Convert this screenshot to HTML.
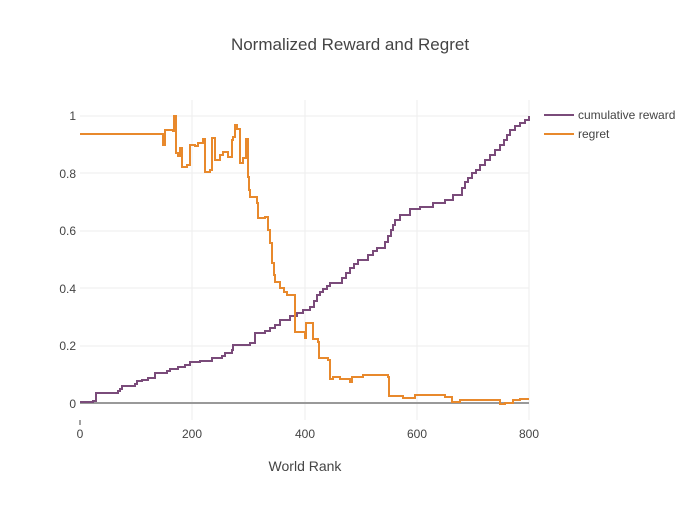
<!DOCTYPE html>
<html><head><style>
body{margin:0;background:#fff;}
svg text{font-family:"Liberation Sans",sans-serif;fill:#444;}
</style></head><body>
<svg width="700" height="500" xmlns="http://www.w3.org/2000/svg">
<rect width="700" height="500" fill="#fff"/>
<g stroke="#eee" stroke-width="1">
<line x1="192" y1="100" x2="192" y2="420"/><line x1="305" y1="100" x2="305" y2="420"/><line x1="417" y1="100" x2="417" y2="420"/><line x1="529" y1="100" x2="529" y2="420"/>
<line x1="80" y1="116" x2="529" y2="116"/><line x1="80" y1="173" x2="529" y2="173"/><line x1="80" y1="231" x2="529" y2="231"/><line x1="80" y1="288" x2="529" y2="288"/><line x1="80" y1="346" x2="529" y2="346"/>
</g>
<line x1="80" y1="403" x2="529" y2="403" stroke="#999" stroke-width="2"/>
<g stroke="#444"><line x1="80" y1="420" x2="80" y2="425"/></g>
<text x="350" y="50" font-size="17" text-anchor="middle">Normalized Reward and Regret</text>
<g font-size="12" text-anchor="end">
<text x="76" y="120">1</text><text x="76" y="178">0.8</text><text x="76" y="235">0.6</text><text x="76" y="293">0.4</text><text x="76" y="350">0.2</text><text x="76" y="408">0</text>
</g>
<g font-size="12" text-anchor="middle">
<text x="80" y="438">0</text><text x="192" y="438">200</text><text x="305" y="438">400</text><text x="417" y="438">600</text><text x="529" y="438">800</text>
</g>
<text x="305" y="471" font-size="14" text-anchor="middle">World Rank</text>
<path fill="none" stroke="#7a4b7a" stroke-width="2" d="M80,402 H93 V401 H96 V393 H118 V391 H120 V389 H122 V386 H135 V384 H137 V381 H142 V380 H148 V378 H155 V373 H167 V371 H170 V369 H178 V367 H185 V365 H190 V362 H200 V361 H212 V358 H222 V356 H225 V353 H232 V350 H233 V345 H250 V343 H255 V333 H265 V331 H270 V328 H275 V325 H280 V320 H290 V316 H297 V313 H303 V310 H310 V307 H314 V301 H317 V295 H320 V292 H323 V289 H327 V286 H330 V283 H342 V278 H346 V273 H350 V268 H354 V264 H358 V260 H368 V255 H373 V251 H377 V248 H385 V242 H388 V236 H391 V230 H393 V225 H395 V220 H400 V215 H410 V209 H420 V207 H433 V203 H445 V200 H453 V195 H462 V188 H465 V182 H468 V178 H472 V173 H476 V170 H480 V165 H485 V160 H490 V155 H495 V150 H500 V145 H504 V140 H507 V135 H510 V130 H515 V126 H520 V123 H525 V120 H529 V116"/>
<path fill="none" stroke="#e8892c" stroke-width="2" d="M80,134 H163 V145 H165 V130 H173 V131 H174 V116 H176 V153 H178 V156 H180 V148 H182 V167 H187 V165 H190 V145 H195 V146 H198 V143 H203 V139 H205 V172 H210 V170 H212 V138 H215 V160 H220 V155 H223 V152 H228 V157 H232 V140 H233 V137 H235 V125 H237 V129 H240 V163 H243 V158 H246 V139 H248 V177 H249 V190 H250 V197 H257 V203 H258 V218 H265 V217 H268 V230 H270 V243 H272 V263 H274 V275 H275 V282 H280 V288 H284 V292 H287 V295 H292 V295 H295 V332 H305 V338 H306 V323 H312 V323 H313 V339 H318 V342 H319 V358 H328 V360 H330 V379 H333 V377 H340 V379 H350 V382 H352 V377 H363 V375 H388 V377 H389 V396 H403 V398 H415 V395 H445 V397 H452 V402 H460 V400 H498 V400 H500 V404 H505 V403 H513 V400 H520 V399 H528 V398"/>
<line x1="544" y1="115" x2="574" y2="115" stroke="#7a4b7a" stroke-width="2"/>
<line x1="544" y1="134" x2="574" y2="134" stroke="#e8892c" stroke-width="2"/>
<text x="578" y="119" font-size="12">cumulative reward</text>
<text x="578" y="138" font-size="12">regret</text>
</svg>
</body></html>
